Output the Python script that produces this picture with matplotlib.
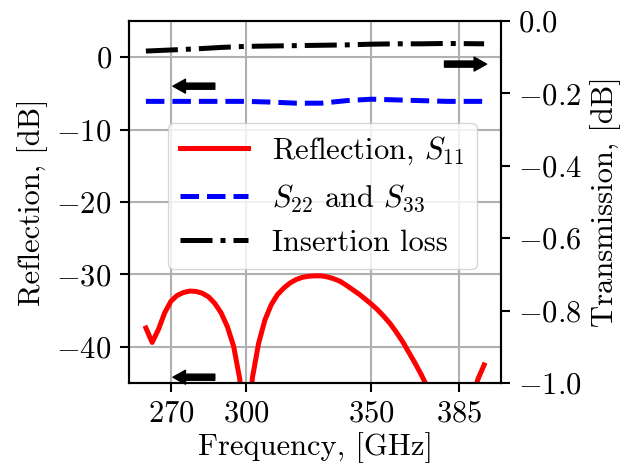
import matplotlib
matplotlib.use("Agg")
import matplotlib.pyplot as plt

plt.rcParams["font.family"] = "serif"
plt.rcParams["font.serif"] = ["cmr10"]
plt.rcParams["mathtext.fontset"] = "cm"
plt.rcParams["axes.formatter.use_mathtext"] = True
plt.rcParams["font.size"] = 22

# reflection S11 [dB], left axis
freq_s11 = [260, 262.5, 265, 267.5, 270, 272.5, 275, 277.5, 280, 282.5, 285,
            287.5, 290, 292.5, 295, 297.5, 300, 302.5, 305, 307.5, 310, 312.5,
            315, 317.5, 320, 322.5, 325, 327.5, 330, 332.5, 335, 337.5, 340,
            342.5, 345, 347.5, 350, 352.5, 355, 357.5, 360, 362.5, 365, 367.5,
            370, 372.5, 375, 377.5, 380, 382.5, 385, 387.5, 390, 392.5, 395]
s11 = [-37.4, -39.4, -37.6, -35.3, -33.7, -32.9, -32.5, -32.3, -32.35, -32.6,
       -33.1, -34.0, -35.3, -37.2, -39.9, -44.5, -58.0, -44.3, -39.5, -36.3,
       -34.2, -32.8, -31.9, -31.2, -30.7, -30.4, -30.25, -30.2, -30.2, -30.35,
       -30.6, -30.95, -31.5, -32.1, -32.7, -33.4, -34.1, -34.9, -35.8, -36.8,
       -38.0, -39.3, -40.8, -42.3, -43.9, -45.7, -47.5, -49.5, -52.0, -55.0,
       -57.0, -53.0, -47.5, -44.5, -42.5]

# S22 / S33 [dB], left axis
freq_s22 = [260, 270, 280, 290, 300, 310, 320, 330, 340, 350, 360, 370, 380, 395]
s22 = [-6.1, -6.1, -6.1, -6.1, -6.1, -6.2, -6.35, -6.35, -6.0, -5.8, -5.9,
       -6.0, -6.1, -6.1]

# insertion loss [dB], right axis
freq_il = [260, 270, 280, 290, 300, 310, 320, 330, 340, 350, 360, 370, 380, 395]
il = [-0.083, -0.080, -0.077, -0.073, -0.070, -0.069, -0.068, -0.067, -0.066,
      -0.064, -0.063, -0.063, -0.062, -0.063]

xticks = [270, 300, 350, 385]

fig = plt.figure(figsize=(6.28, 4.70), dpi=100)
ax = fig.add_axes([0.2054, 0.1851, 0.5924, 0.7702])
ax2 = ax.twinx()

l1, = ax.plot(freq_s11, s11, color="red", lw=3.6, label=r"Reflection, $S_{11}$")
l2, = ax.plot(freq_s22, s22, color="blue", lw=3.6, ls="--",
              label=r"$S_{22}$ and $S_{33}$")
l3, = ax2.plot(freq_il, il, color="black", lw=3.6, ls="-.",
               label="Insertion loss")

ax.set_ylim(-45, 5)
ax2.set_ylim(-1.0, 0.0)
ax.set_xticks(xticks)
ax.grid(True, color="#b0b0b0", lw=1.5)

for a in (ax, ax2):
    a.tick_params(length=6.5, width=1.5, pad=6)
    for s in a.spines.values():
        s.set_linewidth(1.5)

ax.set_xlabel("Frequency, [GHz]", labelpad=3)
ax.set_ylabel("Reflection, [dB]", labelpad=6)
ax2.set_ylabel("Transmission, [dB]", labelpad=6)

# direction arrows
arr = dict(arrowstyle="simple,head_length=0.45,head_width=0.5,tail_width=0.22",
           color="black", mutation_scale=20, shrinkA=0, shrinkB=0)
ax.annotate("", xy=(270.8, -4.0), xytext=(287.5, -4.0), arrowprops=arr)
ax.annotate("", xy=(270.8, -44.2), xytext=(287.5, -44.2), arrowprops=arr)
ax2.annotate("", xy=(396.0, -0.119), xytext=(379.2, -0.119), arrowprops=arr)

ax2.legend(handles=[l1, l2, l3], loc="center", bbox_to_anchor=(0.52, 0.517),
           handlelength=2.2, framealpha=0.8)

fig.savefig("out.png", dpi=100)
